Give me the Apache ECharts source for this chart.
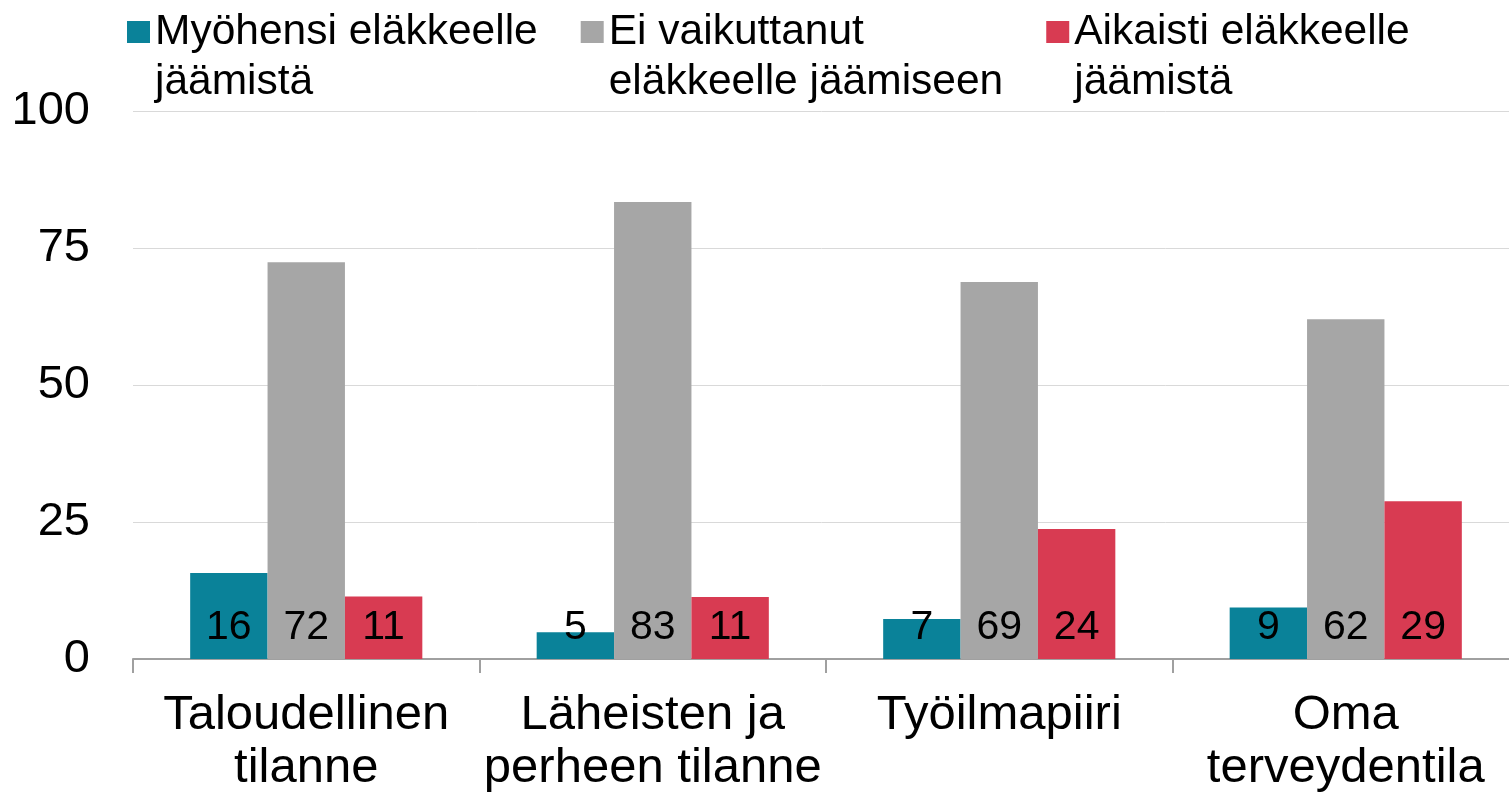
<!DOCTYPE html>
<html>
<head>
<meta charset="utf-8">
<script src="https://cdn.jsdelivr.net/npm/echarts@6/dist/echarts.min.js"></script>
<style>
  html, body { margin: 0; padding: 0; background: #fff; }
  #chart { width: 1509px; height: 794px; }
</style>
</head>
<body>
<div id="chart"></div>
<script>
// data
const categories = ['Taloudellinen\ntilanne', 'Läheisten ja\nperheen tilanne', 'Työilmapiiri', 'Oma\nterveydentila'];
const seriesNames = ['Myöhensi eläkkeelle jäämistä', 'Ei vaikuttanut eläkkeelle jäämiseen', 'Aikaisti eläkkeelle jäämistä'];
const legendLabels = ['Myöhensi eläkkeelle\njäämistä', 'Ei vaikuttanut\neläkkeelle jäämiseen', 'Aikaisti eläkkeelle\njäämistä'];
const myohensi = [15.7, 4.9, 7.3, 9.4];
const eiVaikuttanut = [72.4, 83.4, 68.8, 62.0];
const aikaisti = [11.4, 11.3, 23.7, 28.8];
const yTicks = { min: 0, max: 100, interval: 25 };

const colors = ['#0A8299', '#A6A6A6', '#D83B52'];
const font = 'Liberation Sans, Arial, sans-serif';

const chart = echarts.init(document.getElementById('chart'));

function barSeries(name, data, color) {
  return {
    name: name,
    type: 'bar',
    data: data,
    barGap: '0%',
    barCategoryGap: '33%',
    itemStyle: { color: color },
    label: {
      show: true,
      position: 'insideBottom',
      distance: 11,
      color: '#000',
      fontSize: 41,
      fontFamily: font,
      formatter: p => Math.round(p.value)
    }
  };
}

const option = {
  animation: false,
  legend: {
    left: 122,
    top: -48,
    itemWidth: 23,
    itemHeight: 22,
    itemGap: 43,
    icon: 'rect',
    data: seriesNames,
    // leading empty line keeps the icon level with the first text line
    formatter: name => '\n' + legendLabels[seriesNames.indexOf(name)],
    textStyle: {
      fontSize: 42.5,
      lineHeight: 50,
      color: '#000',
      fontFamily: font
    }
  },
  grid: { left: 133, right: -10, top: 111, bottom: 135, containLabel: false, outerBoundsMode: 'none' },
  xAxis: {
    type: 'category',
    data: categories,
    axisLine: { lineStyle: { color: '#A0A0A0', width: 2 } },
    axisTick: { show: true, length: 14, lineStyle: { color: '#A0A0A0', width: 2 } },
    axisLabel: { fontSize: 49, lineHeight: 53, color: '#000', fontFamily: font, margin: 30, interval: 0 }
  },
  yAxis: {
    type: 'value',
    min: yTicks.min,
    max: yTicks.max,
    interval: yTicks.interval,
    axisLine: { show: false },
    axisTick: { show: false },
    splitLine: { lineStyle: { color: '#D9D9D9', width: 1 } },
    axisLabel: { fontSize: 47, color: '#000', fontFamily: font, margin: 43 }
  },
  series: [
    barSeries(seriesNames[0], myohensi, colors[0]),
    barSeries(seriesNames[1], eiVaikuttanut, colors[1]),
    barSeries(seriesNames[2], aikaisti, colors[2])
  ]
};

chart.setOption(option);
</script>
</body>
</html>
